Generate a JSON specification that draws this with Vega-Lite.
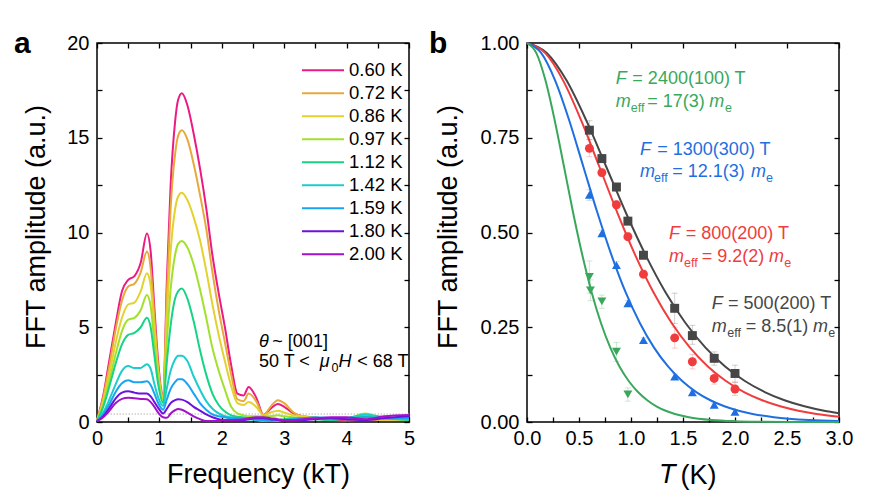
{
  "$schema": "https://vega.github.io/schema/vega-lite/v6.json",
  "padding": {"left": 13, "top": 28, "right": 5, "bottom": 5},
  "config": {
    "font": "Liberation Sans",
    "view": {"stroke": "black", "strokeWidth": 1.5},
    "axis": {
      "domain": false, "grid": false,
      "tickColor": "black", "tickWidth": 1.3, "tickSize": -5,
      "labelColor": "black", "labelFontSize": 20, "labelPadding": 13,
      "labelFlush": false, "labelOverlap": false, "labelFont": "Liberation Sans",
      "titleColor": "black", "titleFontSize": 27, "titleFontWeight": "normal", "titleFont": "Liberation Sans"
    },
    "text": {"font": "Liberation Sans"}
  },
  "datasets": {
    "spectra": [
      {"F":0,"a060":0.1,"a072":0.1,"a086":0.1,"a097":0.1,"a112":0.05,"a142":0.05,"a159":0.05,"a180":0.05,"a200":0.05},
      {"F":0.1,"a060":1.4,"a072":1.3,"a086":1.1,"a097":0.9,"a112":0.8,"a142":0.5,"a159":0.4,"a180":0.3,"a200":0.25},
      {"F":0.2,"a060":3.3,"a072":3.0,"a086":2.6,"a097":2.2,"a112":1.9,"a142":1.2,"a159":0.95,"a180":0.75,"a200":0.6},
      {"F":0.3,"a060":5.2,"a072":4.9,"a086":4.2,"a097":3.6,"a112":3.1,"a142":2.0,"a159":1.6,"a180":1.25,"a200":1.0},
      {"F":0.4,"a060":6.9,"a072":6.4,"a086":5.5,"a097":4.8,"a112":4.1,"a142":2.7,"a159":2.05,"a180":1.55,"a200":1.22},
      {"F":0.5,"a060":7.5,"a072":7.15,"a086":6.2,"a097":5.4,"a112":4.6,"a142":2.95,"a159":2.2,"a180":1.62,"a200":1.28},
      {"F":0.6,"a060":7.7,"a072":7.3,"a086":6.3,"a097":5.5,"a112":4.7,"a142":2.85,"a159":2.1,"a180":1.55,"a200":1.25},
      {"F":0.7,"a060":8.4,"a072":7.9,"a086":6.9,"a097":5.9,"a112":5.0,"a142":2.85,"a159":2.1,"a180":1.5,"a200":1.22},
      {"F":0.8,"a060":9.95,"a072":9.0,"a086":7.85,"a097":6.7,"a112":5.5,"a142":3.05,"a159":2.15,"a180":1.5,"a200":1.2},
      {"F":0.86,"a060":9.0,"a072":8.1,"a086":7.2,"a097":6.1,"a112":5.0,"a142":2.8,"a159":1.95,"a180":1.35,"a200":1.05},
      {"F":0.92,"a060":6.0,"a072":5.5,"a086":4.9,"a097":4.2,"a112":3.5,"a142":2.0,"a159":1.5,"a180":1.05,"a200":0.8},
      {"F":0.98,"a060":3.2,"a072":2.9,"a086":2.7,"a097":2.4,"a112":2.0,"a142":1.3,"a159":1.0,"a180":0.75,"a200":0.5},
      {"F":1.06,"a060":1.3,"a072":1.3,"a086":1.2,"a097":1.1,"a112":1.0,"a142":0.85,"a159":0.65,"a180":0.45,"a200":0.25},
      {"F":1.12,"a060":7.5,"a072":6.8,"a086":5.5,"a097":4.3,"a112":3.2,"a142":1.8,"a159":1.2,"a180":0.7,"a200":0.22},
      {"F":1.18,"a060":12.5,"a072":11.3,"a086":9.0,"a097":7.0,"a112":5.1,"a142":2.7,"a159":1.75,"a180":1.0,"a200":0.45},
      {"F":1.25,"a060":15.8,"a072":14.1,"a086":11.2,"a097":8.8,"a112":6.5,"a142":3.3,"a159":2.1,"a180":1.15,"a200":0.62},
      {"F":1.3,"a060":17.0,"a072":15.1,"a086":11.9,"a097":9.4,"a112":6.9,"a142":3.5,"a159":2.25,"a180":1.2,"a200":0.68},
      {"F":1.36,"a060":17.35,"a072":15.4,"a086":12.1,"a097":9.55,"a112":7.05,"a142":3.5,"a159":2.25,"a180":1.18,"a200":0.65},
      {"F":1.45,"a060":16.7,"a072":14.9,"a086":11.7,"a097":9.2,"a112":6.5,"a142":3.2,"a159":2.0,"a180":1.05,"a200":0.5},
      {"F":1.55,"a060":15.2,"a072":13.6,"a086":10.8,"a097":8.3,"a112":5.3,"a142":2.4,"a159":1.5,"a180":0.8,"a200":0.3},
      {"F":1.65,"a060":13.4,"a072":12.0,"a086":9.6,"a097":7.0,"a112":3.8,"a142":1.7,"a159":1.0,"a180":0.6,"a200":0.15},
      {"F":1.75,"a060":11.3,"a072":10.2,"a086":8.0,"a097":5.5,"a112":2.5,"a142":1.1,"a159":0.65,"a180":0.4,"a200":0.05},
      {"F":1.85,"a060":8.8,"a072":7.9,"a086":6.2,"a097":3.9,"a112":1.5,"a142":0.7,"a159":0.4,"a180":0.25,"a200":0.05},
      {"F":1.95,"a060":6.8,"a072":5.9,"a086":4.6,"a097":2.7,"a112":0.9,"a142":0.45,"a159":0.3,"a180":0.15,"a200":0.05},
      {"F":2.05,"a060":5.0,"a072":4.2,"a086":3.2,"a097":1.7,"a112":0.55,"a142":0.3,"a159":0.25,"a180":0.1,"a200":0.1},
      {"F":2.15,"a060":3.0,"a072":2.5,"a086":1.9,"a097":0.8,"a112":0.35,"a142":0.25,"a159":0.2,"a180":0.1,"a200":0.1},
      {"F":2.25,"a060":1.5,"a072":1.2,"a086":1.0,"a097":0.45,"a112":0.28,"a142":0.2,"a159":0.2,"a180":0.1,"a200":0.12},
      {"F":2.35,"a060":1.4,"a072":1.1,"a086":0.9,"a097":0.35,"a112":0.25,"a142":0.15,"a159":0.2,"a180":0.1,"a200":0.15},
      {"F":2.43,"a060":1.85,"a072":1.5,"a086":1.05,"a097":0.3,"a112":0.2,"a142":0.15,"a159":0.2,"a180":0.15,"a200":0.2},
      {"F":2.55,"a060":1.3,"a072":1.1,"a086":0.8,"a097":0.3,"a112":0.2,"a142":0.1,"a159":0.15,"a180":0.2,"a200":0.25},
      {"F":2.67,"a060":0.37,"a072":0.35,"a086":0.35,"a097":0.3,"a112":0.15,"a142":0.05,"a159":0.1,"a180":0.2,"a200":0.25},
      {"F":2.78,"a060":0.7,"a072":0.8,"a086":0.5,"a097":0.3,"a112":0.1,"a142":0.05,"a159":0.05,"a180":0.15,"a200":0.2},
      {"F":2.9,"a060":0.95,"a072":1.15,"a086":0.6,"a097":0.35,"a112":0.1,"a142":0.05,"a159":0.1,"a180":0.1,"a200":0.15},
      {"F":3.0,"a060":0.8,"a072":1.0,"a086":0.5,"a097":0.3,"a112":0.15,"a142":0.1,"a159":0.1,"a180":0.05,"a200":0.1},
      {"F":3.15,"a060":0.45,"a072":0.5,"a086":0.35,"a097":0.25,"a112":0.2,"a142":0.15,"a159":0.15,"a180":0.05,"a200":0.1},
      {"F":3.3,"a060":0.3,"a072":0.3,"a086":0.3,"a097":0.2,"a112":0.2,"a142":0.2,"a159":0.2,"a180":0.1,"a200":0.15},
      {"F":3.5,"a060":0.2,"a072":0.25,"a086":0.2,"a097":0.15,"a112":0.15,"a142":0.2,"a159":0.25,"a180":0.15,"a200":0.2},
      {"F":3.75,"a060":0.1,"a072":0.15,"a086":0.2,"a097":0.2,"a112":0.1,"a142":0.15,"a159":0.2,"a180":0.2,"a200":0.25},
      {"F":4.0,"a060":0.05,"a072":0.15,"a086":0.15,"a097":0.2,"a112":0.2,"a142":0.2,"a159":0.15,"a180":0.15,"a200":0.25},
      {"F":4.3,"a060":0.15,"a072":0.1,"a086":0.2,"a097":0.45,"a112":0.3,"a142":0.4,"a159":0.25,"a180":0.1,"a200":0.15},
      {"F":4.6,"a060":0.1,"a072":0.15,"a086":0.1,"a097":0.2,"a112":0.2,"a142":0.25,"a159":0.2,"a180":0.2,"a200":0.3},
      {"F":5.0,"a060":0.2,"a072":0.1,"a086":0.1,"a097":0.15,"a112":0.1,"a142":0.15,"a159":0.2,"a180":0.3,"a200":0.37}
    ],
    "aItalic": [
      {"F":2.596,"A":3.97,"txt":"θ"},
      {"F":3.57,"A":2.92,"txt":"μ"},
      {"F":3.87,"A":2.92,"txt":"H"}
    ],
    "aRegular": [
      {"F":2.81,"A":3.97,"txt":"~ [001]"},
      {"F":2.596,"A":2.92,"txt":"50 T <"},
      {"F":4.17,"A":2.92,"txt":"< 68 T"}
    ],
    "aSub": [
      {"F":3.76,"A":2.92,"txt":"0"}
    ],
    "fits": [
      {"s":"500","T":0,"A":1},{"s":"500","T":0.19,"A":0.9738},{"s":"500","T":0.381,"A":0.9008},{"s":"500","T":0.571,"A":0.795},
      {"s":"500","T":0.762,"A":0.6735},{"s":"500","T":0.952,"A":0.5514},{"s":"500","T":1.143,"A":0.4391},{"s":"500","T":1.333,"A":0.3418},
      {"s":"500","T":1.524,"A":0.2613},{"s":"500","T":1.714,"A":0.1969},{"s":"500","T":1.905,"A":0.1466},{"s":"500","T":2.095,"A":0.1081},
      {"s":"500","T":2.286,"A":0.079},{"s":"500","T":2.476,"A":0.0574},{"s":"500","T":2.667,"A":0.0414},{"s":"500","T":2.857,"A":0.0297},
      {"s":"500","T":3.0,"A":0.0232},
      {"s":"800","T":0,"A":1},{"s":"800","T":0.174,"A":0.9738},{"s":"800","T":0.348,"A":0.9008},{"s":"800","T":0.522,"A":0.795},
      {"s":"800","T":0.696,"A":0.6735},{"s":"800","T":0.87,"A":0.5514},{"s":"800","T":1.043,"A":0.4391},{"s":"800","T":1.217,"A":0.3418},
      {"s":"800","T":1.391,"A":0.2613},{"s":"800","T":1.565,"A":0.1969},{"s":"800","T":1.739,"A":0.1466},{"s":"800","T":1.913,"A":0.1081},
      {"s":"800","T":2.087,"A":0.079},{"s":"800","T":2.261,"A":0.0574},{"s":"800","T":2.435,"A":0.0414},{"s":"800","T":2.609,"A":0.0297},
      {"s":"800","T":2.783,"A":0.0213},{"s":"800","T":3.0,"A":0.014},
      {"s":"1300","T":0,"A":1},{"s":"1300","T":0.136,"A":0.9738},{"s":"1300","T":0.271,"A":0.9008},{"s":"1300","T":0.407,"A":0.795},
      {"s":"1300","T":0.542,"A":0.6735},{"s":"1300","T":0.678,"A":0.5514},{"s":"1300","T":0.814,"A":0.4391},{"s":"1300","T":0.949,"A":0.3418},
      {"s":"1300","T":1.085,"A":0.2613},{"s":"1300","T":1.22,"A":0.1969},{"s":"1300","T":1.356,"A":0.1466},{"s":"1300","T":1.492,"A":0.1081},
      {"s":"1300","T":1.627,"A":0.079},{"s":"1300","T":1.763,"A":0.0574},{"s":"1300","T":1.898,"A":0.0414},{"s":"1300","T":2.034,"A":0.0297},
      {"s":"1300","T":2.169,"A":0.0213},{"s":"1300","T":2.373,"A":0.0128},{"s":"1300","T":2.712,"A":0.0054},{"s":"1300","T":3.0,"A":0.0026},
      {"s":"2400","T":0,"A":1},{"s":"2400","T":0.089,"A":0.9738},{"s":"2400","T":0.178,"A":0.9008},{"s":"2400","T":0.267,"A":0.795},
      {"s":"2400","T":0.356,"A":0.6735},{"s":"2400","T":0.444,"A":0.5514},{"s":"2400","T":0.533,"A":0.4391},{"s":"2400","T":0.622,"A":0.3418},
      {"s":"2400","T":0.711,"A":0.2613},{"s":"2400","T":0.8,"A":0.1969},{"s":"2400","T":0.889,"A":0.1466},{"s":"2400","T":0.978,"A":0.1081},
      {"s":"2400","T":1.067,"A":0.079},{"s":"2400","T":1.156,"A":0.0574},{"s":"2400","T":1.244,"A":0.0414},{"s":"2400","T":1.333,"A":0.0297},
      {"s":"2400","T":1.422,"A":0.0213},{"s":"2400","T":1.556,"A":0.0128},{"s":"2400","T":1.778,"A":0.0054},{"s":"2400","T":2.0,"A":0.0022},
      {"s":"2400","T":2.222,"A":0.0009},{"s":"2400","T":2.667,"A":0.00015},{"s":"2400","T":3.0,"A":0.00003}
    ],
    "points": [
      {"s":"500","T":0.6,"A":0.77,"lo":0.745,"hi":0.795},
      {"s":"500","T":0.72,"A":0.695,"lo":0.685,"hi":0.705},
      {"s":"500","T":0.86,"A":0.62,"lo":0.61,"hi":0.63},
      {"s":"500","T":0.97,"A":0.53,"lo":0.52,"hi":0.54},
      {"s":"500","T":1.12,"A":0.44,"lo":0.43,"hi":0.45},
      {"s":"500","T":1.42,"A":0.3,"lo":0.26,"hi":0.34},
      {"s":"500","T":1.59,"A":0.228,"lo":0.205,"hi":0.255},
      {"s":"500","T":1.8,"A":0.168,"lo":0.15,"hi":0.185},
      {"s":"500","T":2.0,"A":0.128,"lo":0.105,"hi":0.15},
      {"s":"800","T":0.6,"A":0.722,"lo":0.7,"hi":0.745},
      {"s":"800","T":0.72,"A":0.658,"lo":0.648,"hi":0.668},
      {"s":"800","T":0.86,"A":0.573,"lo":0.563,"hi":0.583},
      {"s":"800","T":0.97,"A":0.489,"lo":0.479,"hi":0.499},
      {"s":"800","T":1.12,"A":0.39,"lo":0.38,"hi":0.4},
      {"s":"800","T":1.42,"A":0.222,"lo":0.195,"hi":0.25},
      {"s":"800","T":1.59,"A":0.159,"lo":0.14,"hi":0.178},
      {"s":"800","T":1.8,"A":0.115,"lo":0.1,"hi":0.13},
      {"s":"800","T":2.0,"A":0.087,"lo":0.07,"hi":0.105},
      {"s":"1300","T":0.6,"A":0.599,"lo":0.585,"hi":0.613},
      {"s":"1300","T":0.72,"A":0.498,"lo":0.49,"hi":0.506},
      {"s":"1300","T":0.86,"A":0.414,"lo":0.405,"hi":0.423},
      {"s":"1300","T":0.97,"A":0.313,"lo":0.305,"hi":0.321},
      {"s":"1300","T":1.12,"A":0.216,"lo":0.21,"hi":0.222},
      {"s":"1300","T":1.42,"A":0.12,"lo":0.113,"hi":0.127},
      {"s":"1300","T":1.59,"A":0.078,"lo":0.072,"hi":0.084},
      {"s":"1300","T":1.8,"A":0.045,"lo":0.04,"hi":0.05},
      {"s":"1300","T":2.0,"A":0.027,"lo":0.022,"hi":0.032},
      {"s":"2400","T":0.6,"A":0.383,"lo":0.34,"hi":0.425},
      {"s":"2400","T":0.61,"A":0.347,"lo":0.32,"hi":0.375},
      {"s":"2400","T":0.72,"A":0.318,"lo":0.3,"hi":0.335},
      {"s":"2400","T":0.86,"A":0.186,"lo":0.16,"hi":0.21},
      {"s":"2400","T":0.97,"A":0.073,"lo":0.055,"hi":0.09}
    ],
    "bItalic": [
      {"s":"2400","T":0.853,"A":0.892,"txt":"F"},{"s":"2400","T":0.853,"A":0.832,"txt":"m"},{"s":"2400","T":1.753,"A":0.832,"txt":"m"},
      {"s":"1300","T":1.087,"A":0.704,"txt":"F"},{"s":"1300","T":1.087,"A":0.647,"txt":"m"},{"s":"1300","T":2.153,"A":0.647,"txt":"m"},
      {"s":"800","T":1.365,"A":0.483,"txt":"F"},{"s":"800","T":1.365,"A":0.423,"txt":"m"},{"s":"800","T":2.327,"A":0.423,"txt":"m"},
      {"s":"500","T":1.776,"A":0.297,"txt":"F"},{"s":"500","T":1.776,"A":0.238,"txt":"m"},{"s":"500","T":2.75,"A":0.238,"txt":"m"}
    ],
    "bRegular": [
      {"s":"2400","T":1.013,"A":0.892,"txt":"= 2400(100) T"},{"s":"2400","T":1.157,"A":0.832,"txt":"= 17(3)"},
      {"s":"1300","T":1.253,"A":0.704,"txt":"= 1300(300) T"},{"s":"1300","T":1.397,"A":0.647,"txt":"= 12.1(3)"},
      {"s":"800","T":1.526,"A":0.483,"txt":"= 800(200) T"},{"s":"800","T":1.68,"A":0.423,"txt":"= 9.2(2)"},
      {"s":"500","T":1.933,"A":0.297,"txt":"= 500(200) T"},{"s":"500","T":2.103,"A":0.238,"txt":"= 8.5(1)"}
    ],
    "bSub": [
      {"s":"2400","T":0.997,"A":0.832,"txt":"eff"},{"s":"2400","T":1.903,"A":0.832,"txt":"e"},
      {"s":"1300","T":1.221,"A":0.647,"txt":"eff"},{"s":"1300","T":2.298,"A":0.647,"txt":"e"},
      {"s":"800","T":1.51,"A":0.423,"txt":"eff"},{"s":"800","T":2.473,"A":0.423,"txt":"e"},
      {"s":"500","T":1.926,"A":0.238,"txt":"eff"},{"s":"500","T":2.896,"A":0.238,"txt":"e"}
    ]
  },
  "hconcat": [
    {
      "width": 312,
      "height": 379,
      "resolve": {"axis": {"x": "independent", "y": "independent"}},
      "layer": [
        {
          "data": {"values": [{}]},
          "mark": {"type": "rule", "color": "#b5b5b5", "strokeDash": [1.5, 1.5], "strokeWidth": 1},
          "encoding": {"y": {"datum": 0.42, "type": "quantitative", "axis": null, "scale": {"domain": [0, 20], "nice": false}}}
        },
        {
          "data": {"name": "spectra"},
          "transform": [{"fold": ["a060", "a072", "a086", "a097", "a112", "a142", "a159", "a180", "a200"], "as": ["T", "A"]}],
          "mark": {"type": "line", "strokeWidth": 2, "interpolate": "monotone"},
          "encoding": {
            "x": {
              "field": "F", "type": "quantitative",
              "scale": {"domain": [0, 5], "nice": false},
              "axis": {
                "orient": "bottom",
                "values": [0, 0.5, 1, 1.5, 2, 2.5, 3, 3.5, 4, 4.5, 5],
                "labelExpr": "abs(datum.value - round(datum.value)) < 0.001 ? format(datum.value, 'd') : ''",
                "labelPadding": 11,
                "title": "Frequency (kT)", "titleX": 161, "titleY": 60, "titleBaseline": "alphabetic", "titleAlign": "center"
              }
            },
            "y": {
              "field": "A", "type": "quantitative",
              "scale": {"domain": [0, 20], "nice": false},
              "axis": {
                "orient": "left",
                "values": [0, 2.5, 5, 7.5, 10, 12.5, 15, 17.5, 20],
                "labelExpr": "abs(datum.value / 5 - round(datum.value / 5)) < 0.001 ? format(datum.value, 'd') : ''",
                "title": "FFT amplitude (a.u.)", "titleX": -53, "titleY": 183.5, "titleAngle": -90, "titleBaseline": "alphabetic", "titleAlign": "center"
              }
            },
            "color": {
              "field": "T", "type": "nominal",
              "scale": {
                "domain": ["a060", "a072", "a086", "a097", "a112", "a142", "a159", "a180", "a200"],
                "range": ["#ec1a83", "#e8a93a", "#e3d22e", "#a3e02d", "#17d386", "#1ecccc", "#1ba3f3", "#6a12e0", "#a212c8"]
              },
              "legend": {
                "orient": "none", "legendX": 204, "legendY": 16, "title": null, "padding": 0,
                "symbolType": "stroke", "symbolSize": 1764, "symbolStrokeWidth": 2,
                "clipHeight": 22.25, "rowPadding": 0,
                "labelFontSize": 18.5, "labelOffset": 4, "labelColor": "black", "labelFont": "Liberation Sans",
                "labelExpr": "slice(datum.label, 1, 2) + '.' + slice(datum.label, 2) + ' K'"
              }
            }
          }
        },
        {
          "data": {"name": "aItalic"},
          "mark": {"type": "text", "fontSize": 18, "fontStyle": "italic", "align": "left", "baseline": "alphabetic", "color": "black"},
          "encoding": {
            "x": {"field": "F", "type": "quantitative", "axis": null},
            "y": {"field": "A", "type": "quantitative", "axis": null},
            "text": {"field": "txt"}
          }
        },
        {
          "data": {"name": "aRegular"},
          "mark": {"type": "text", "fontSize": 18, "align": "left", "baseline": "alphabetic", "color": "black"},
          "encoding": {
            "x": {"field": "F", "type": "quantitative", "axis": null},
            "y": {"field": "A", "type": "quantitative", "axis": null},
            "text": {"field": "txt"}
          }
        },
        {
          "data": {"name": "aSub"},
          "mark": {"type": "text", "fontSize": 12.5, "align": "left", "baseline": "alphabetic", "dy": 5, "color": "black"},
          "encoding": {
            "x": {"field": "F", "type": "quantitative", "axis": null},
            "y": {"field": "A", "type": "quantitative", "axis": null},
            "text": {"field": "txt"}
          }
        },
        {
          "data": {"values": [{}]},
          "mark": {"type": "text", "text": "a", "fontSize": 30, "fontWeight": "bold", "align": "left", "baseline": "alphabetic", "color": "black"},
          "encoding": {
            "x": {"datum": -1.33, "type": "quantitative", "axis": {"orient": "top", "labels": false, "title": null, "values": [0, 0.5, 1, 1.5, 2, 2.5, 3, 3.5, 4, 4.5, 5]}},
            "y": {"datum": 19.46, "type": "quantitative", "axis": {"orient": "right", "labels": false, "title": null, "values": [0, 2.5, 5, 7.5, 10, 12.5, 15, 17.5, 20]}}
          }
        }
      ]
    },
    {
      "width": 312,
      "height": 379,
      "resolve": {"axis": {"x": "independent", "y": "independent"}},
      "layer": [
        {
          "data": {"name": "fits"},
          "mark": {"type": "line", "strokeWidth": 2, "interpolate": "monotone"},
          "encoding": {
            "x": {
              "field": "T", "type": "quantitative",
              "scale": {"domain": [0, 3], "nice": false},
              "axis": {
                "orient": "bottom",
                "values": [0, 0.25, 0.5, 0.75, 1, 1.25, 1.5, 1.75, 2, 2.25, 2.5, 2.75, 3],
                "labelExpr": "abs(datum.value * 2 - round(datum.value * 2)) < 0.001 ? format(datum.value, '.1f') : ''",
                "labelPadding": 11,
                "title": "(K)", "titleX": 153, "titleY": 61, "titleBaseline": "alphabetic", "titleAlign": "left"
              }
            },
            "y": {
              "field": "A", "type": "quantitative",
              "scale": {"domain": [0, 1], "nice": false},
              "axis": {
                "orient": "left",
                "values": [0, 0.125, 0.25, 0.375, 0.5, 0.625, 0.75, 0.875, 1],
                "labelExpr": "abs(datum.value * 4 - round(datum.value * 4)) < 0.001 ? format(datum.value, '.2f') : ''",
                "title": "FFT amplitude (a.u.)", "titleX": -71, "titleY": 183.5, "titleAngle": -90, "titleBaseline": "alphabetic", "titleAlign": "center"
              }
            },
            "color": {
              "field": "s", "type": "nominal",
              "scale": {"domain": ["2400", "1300", "800", "500"], "range": ["#3aa85c", "#1f6fe0", "#f03c3c", "#464646"]},
              "legend": null
            }
          }
        },
        {
          "data": {"name": "points"},
          "mark": {"type": "rule", "strokeWidth": 1, "opacity": 0.25},
          "encoding": {
            "x": {"field": "T", "type": "quantitative", "axis": null},
            "y": {"field": "lo", "type": "quantitative", "axis": null},
            "y2": {"field": "hi"},
            "color": {"field": "s", "type": "nominal", "legend": null}
          }
        },
        {
          "data": {"name": "points"},
          "transform": [{"fold": ["lo", "hi"], "as": ["end", "Y"]}],
          "mark": {"type": "tick", "orient": "horizontal", "size": 6, "thickness": 1, "opacity": 0.25},
          "encoding": {
            "x": {"field": "T", "type": "quantitative", "axis": null},
            "y": {"field": "Y", "type": "quantitative", "axis": null},
            "color": {"field": "s", "type": "nominal", "legend": null}
          }
        },
        {
          "data": {"name": "points"},
          "mark": {"type": "point", "filled": true, "opacity": 1, "size": 80},
          "encoding": {
            "x": {"field": "T", "type": "quantitative", "axis": null},
            "y": {"field": "A", "type": "quantitative", "axis": null},
            "color": {"field": "s", "type": "nominal", "legend": null},
            "shape": {
              "field": "s", "type": "nominal",
              "scale": {"domain": ["2400", "1300", "800", "500"], "range": ["triangle-down", "triangle-up", "circle", "square"]},
              "legend": null
            }
          }
        },
        {
          "data": {"name": "bItalic"},
          "mark": {"type": "text", "fontSize": 18, "fontStyle": "italic", "align": "left", "baseline": "alphabetic"},
          "encoding": {
            "x": {"field": "T", "type": "quantitative", "axis": null},
            "y": {"field": "A", "type": "quantitative", "axis": null},
            "text": {"field": "txt"},
            "color": {"field": "s", "type": "nominal", "legend": null}
          }
        },
        {
          "data": {"name": "bRegular"},
          "mark": {"type": "text", "fontSize": 18, "align": "left", "baseline": "alphabetic"},
          "encoding": {
            "x": {"field": "T", "type": "quantitative", "axis": null},
            "y": {"field": "A", "type": "quantitative", "axis": null},
            "text": {"field": "txt"},
            "color": {"field": "s", "type": "nominal", "legend": null}
          }
        },
        {
          "data": {"name": "bSub"},
          "mark": {"type": "text", "fontSize": 12.5, "align": "left", "baseline": "alphabetic", "dy": 5},
          "encoding": {
            "x": {"field": "T", "type": "quantitative", "axis": null},
            "y": {"field": "A", "type": "quantitative", "axis": null},
            "text": {"field": "txt"},
            "color": {"field": "s", "type": "nominal", "legend": null}
          }
        },
        {
          "data": {"values": [{}]},
          "mark": {"type": "text", "text": "T", "fontSize": 27, "fontStyle": "italic", "align": "left", "baseline": "alphabetic", "color": "black"},
          "encoding": {
            "x": {"datum": 1.269, "type": "quantitative", "axis": null},
            "y": {"datum": -0.162, "type": "quantitative", "axis": null}
          }
        },
        {
          "data": {"values": [{}]},
          "mark": {"type": "text", "text": "b", "fontSize": 30, "fontWeight": "bold", "align": "left", "baseline": "alphabetic", "color": "black"},
          "encoding": {
            "x": {"datum": -0.942, "type": "quantitative", "axis": {"orient": "top", "labels": false, "title": null, "values": [0, 0.5, 1, 1.5, 2, 2.5, 3]}},
            "y": {"datum": 0.973, "type": "quantitative", "axis": {"orient": "right", "labels": false, "title": null, "values": [0, 0.125, 0.25, 0.375, 0.5, 0.625, 0.75, 0.875, 1]}}
          }
        }
      ]
    }
  ],
  "spacing": 118,
  "bounds": "flush",
  "resolve": {"scale": {"color": "independent", "shape": "independent"}}
}
